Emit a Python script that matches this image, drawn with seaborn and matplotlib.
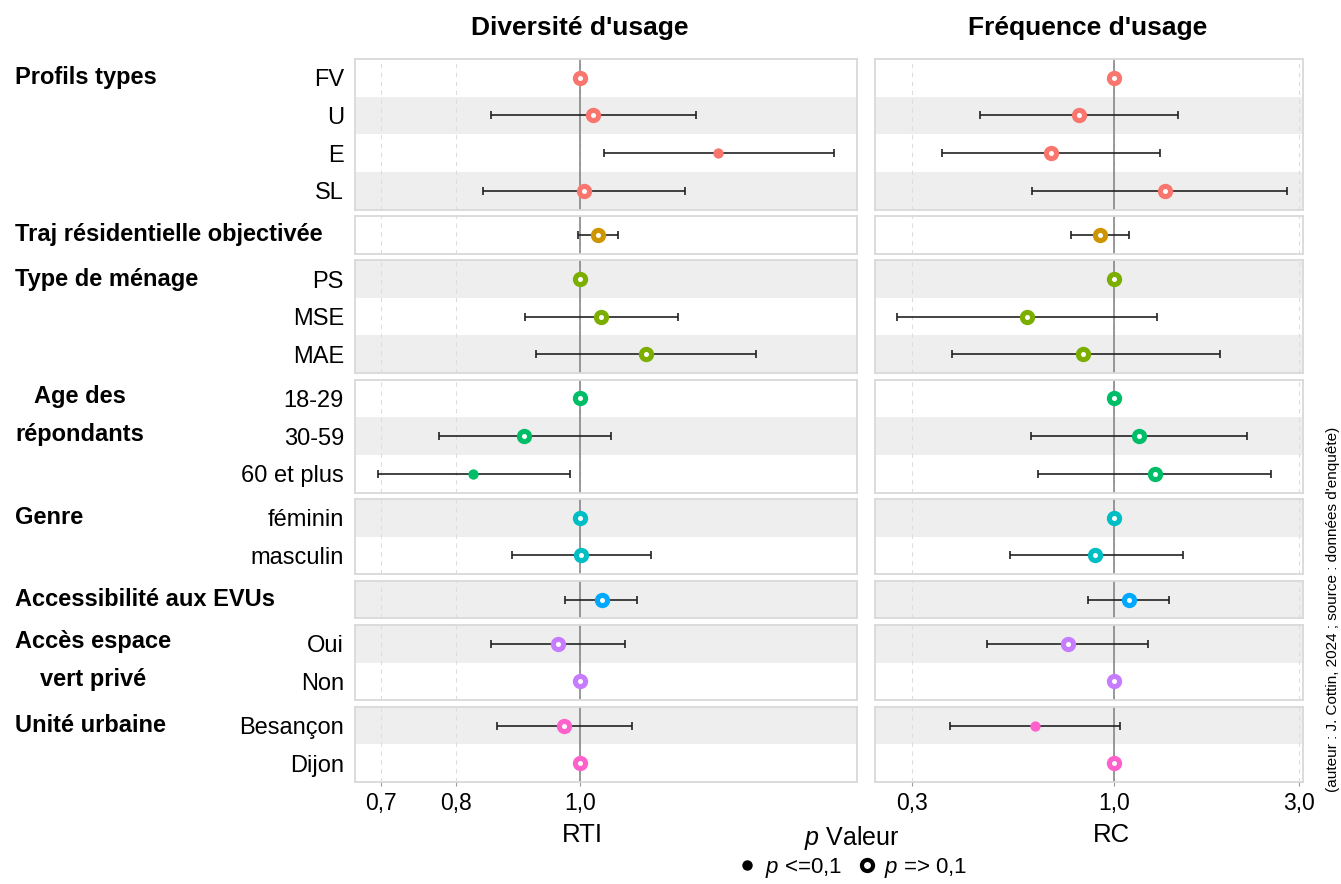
import numpy as np
import pandas as pd
import matplotlib
matplotlib.use('Agg')
import matplotlib.pyplot as plt
import matplotlib.transforms as mtransforms
from matplotlib.lines import Line2D
from matplotlib.ticker import FixedLocator, NullLocator
import seaborn as sns

sns.set_style('white')
plt.rcParams['font.family'] = ['Liberation Sans', 'DejaVu Sans']
plt.rcParams['mathtext.fontset'] = 'custom'
plt.rcParams['mathtext.rm'] = 'Liberation Sans'
plt.rcParams['mathtext.it'] = 'Liberation Sans:italic'
plt.rcParams['text.color'] = 'black'
plt.rcParams['xtick.color'] = 'black'
plt.rcParams['ytick.color'] = 'black'

# --- data ---
group_names = ['Profils types', 'Traj résidentielle objectivée', 'Type de ménage',
               'Age des\nrépondants', 'Genre', 'Accessibilité aux EVUs',
               'Accès espace\nvert privé', 'Unité urbaine']
item_group = [0, 0, 0, 0, 1, 2, 2, 2, 3, 3, 3, 4, 4, 5, 6, 6, 7, 7]
item_labels = ['FV', 'U', 'E', 'SL', '', 'PS', 'MSE', 'MAE', '18-29', '30-59',
               '60 et plus', 'féminin', 'masculin', '', 'Oui', 'Non', 'Besançon', 'Dijon']

# Diversité d'usage (RTI)
rti = [1.0, 1.024, 1.281, 1.007, 1.033, 1.0, 1.038, 1.126, 1.0, 0.905, 0.826,
       1.0, 1.002, 1.040, 0.961, 1.0, 0.972, 1.0]
rti_low = [np.nan, 0.852, 1.043, 0.840, 0.997, np.nan, 0.906, 0.924, np.nan, 0.776, 0.696,
           np.nan, 0.885, 0.973, 0.853, np.nan, 0.861, np.nan]
rti_high = [np.nan, 1.230, 1.577, 1.206, 1.070, np.nan, 1.191, 1.371, np.nan, 1.057, 0.982,
            np.nan, 1.136, 1.108, 1.084, np.nan, 1.097, np.nan]
rti_sig = [False, False, True, False, False, False, False, False, False, False, True,
           False, False, False, False, False, False, False]

# Fréquence d'usage (RC)
rc = [1.0, 0.812, 0.686, 1.349, 0.917, 1.0, 0.595, 0.830, 1.0, 1.156, 1.272,
      1.0, 0.890, 1.089, 0.758, 1.0, 0.623, 1.0]
rc_low = [np.nan, 0.450, 0.358, 0.612, 0.773, np.nan, 0.274, 0.380, np.nan, 0.609, 0.636,
          np.nan, 0.538, 0.857, 0.470, np.nan, 0.376, np.nan]
rc_high = [np.nan, 1.463, 1.315, 2.79, 1.091, np.nan, 1.291, 1.879, np.nan, 2.20, 2.535,
           np.nan, 1.505, 1.387, 1.222, np.nan, 1.034, np.nan]
rc_sig = [False, False, False, False, False, False, False, False, False, False, False,
          False, False, False, False, False, True, False]

palette = ['#F8766D', '#CD9600', '#7CAE00', '#00BE67', '#00BFC4', '#00A9FF', '#C77CFF', '#FF61CC']
shaded = [0, 1, 0, 1, 0, 1, 0, 1, 0, 1, 0, 1, 0, 1, 1, 0, 1, 0]

df = pd.DataFrame({'group': item_group, 'label': item_labels,
                   'rti': rti, 'rti_low': rti_low, 'rti_high': rti_high, 'rti_sig': rti_sig,
                   'rc': rc, 'rc_low': rc_low, 'rc_high': rc_high, 'rc_sig': rc_sig,
                   'shaded': shaded})
df['pos'] = df.groupby('group').cumcount()
sizes = df.groupby('group').size().tolist()

panels = [
    ('rti', (0.668, 1.643), [0.7, 0.8, 1.0], ['0,7', '0,8', '1,0']),
    ('rc', (0.2407, 3.075), [0.3, 1.0, 3.0], ['0,3', '1,0', '3,0']),
]

fig = plt.figure(figsize=(13.41, 8.84), dpi=100)
gs = fig.add_gridspec(8, 2, height_ratios=sizes, width_ratios=[502, 428],
                      left=355 / 1341, right=1303 / 1341, top=1 - 59 / 884, bottom=1 - 782 / 884,
                      wspace=0.0387, hspace=0.077)

for col, (var, lim, ticks, tlabels) in enumerate(panels):
    for g in range(len(group_names)):
        ax = fig.add_subplot(gs[g, col])
        sub = df[df['group'] == g]
        n = len(sub)
        ax.set_xscale('log')

        for p, s in zip(sub['pos'], sub['shaded']):
            if s:
                ax.axhspan(p - 0.5, p + 0.5, color='#EEEEEE', lw=0, zorder=0)
        ax.axvline(1.0, color='#7F7F7F', lw=1.1, zorder=1)

        err = sub.dropna(subset=[var + '_low'])
        if len(err):
            ax.errorbar(err[var], err['pos'],
                        xerr=[err[var] - err[var + '_low'], err[var + '_high'] - err[var]],
                        fmt='none', ecolor='#222222', elinewidth=1.2, capsize=2.8,
                        capthick=1.2, zorder=2)

        opn = sub[~sub[var + '_sig']]
        fil = sub[sub[var + '_sig']]
        if len(opn):
            sns.scatterplot(data=opn, x=var, y='pos', color=palette[g], s=122,
                            linewidth=0, ax=ax, zorder=3)
            sns.scatterplot(data=opn, x=var, y='pos', color='white', s=13,
                            linewidth=0, ax=ax, zorder=4)
        if len(fil):
            sns.scatterplot(data=fil, x=var, y='pos', color=palette[g], s=55,
                            linewidth=0, ax=ax, zorder=3)

        ax.set_xlim(lim)
        ax.xaxis.set_major_locator(FixedLocator(ticks))
        ax.xaxis.set_minor_locator(NullLocator())
        ax.set_ylim(n - 0.5, -0.5)
        ax.grid(axis='x', ls=(0, (4, 4)), color='#DDDDDD', lw=0.8)
        ax.grid(axis='y', visible=False)
        ax.set_xlabel('')
        ax.set_ylabel('')

        if col == 0:
            ax.set_yticks(sub['pos'])
            ax.set_yticklabels(sub['label'], fontsize=17)
            trans = mtransforms.blended_transform_factory(fig.transFigure, ax.transData)
            name = group_names[g]
            if '\n' in name:
                ax.text(15 / 1341, 0.45, name, transform=trans, ha='left', va='center',
                        multialignment='center', linespacing=1.85, fontsize=17, weight='bold')
            else:
                ax.text(15 / 1341, 0, name, transform=trans, ha='left', va='center',
                        fontsize=17, weight='bold')
        else:
            ax.set_yticks([])
        ax.tick_params(axis='y', length=0, pad=8)

        if g == len(group_names) - 1:
            ax.set_xticklabels(tlabels, fontsize=16.5)
            ax.tick_params(axis='x', length=3, color='#999999', pad=4, bottom=True)
        else:
            ax.tick_params(axis='x', length=0, labelbottom=False)

        for sp in ax.spines.values():
            sp.set_color('#D9D9D9')
            sp.set_linewidth(1.3)

# titles and axis labels
fig.text(580 / 1341, 1 - 28 / 884, "Diversité d'usage", ha='center', va='center',
         fontsize=19, weight='bold')
fig.text(1088 / 1341, 1 - 28 / 884, "Fréquence d'usage", ha='center', va='center',
         fontsize=19, weight='bold')
fig.text(582 / 1341, 1 - 835 / 884, 'RTI', ha='center', va='center', fontsize=18.5)
fig.text(1111 / 1341, 1 - 835 / 884, 'RC', ha='center', va='center', fontsize=18.5)

# legend for p value
handles = [Line2D([], [], marker='o', ls='none', color='black', markersize=6.5),
           Line2D([], [], marker='o', ls='none', markerfacecolor='white',
                  markeredgecolor='black', markeredgewidth=3.0, markersize=8)]
fig.legend(handles, ['$p$ <=0,1', '$p$ => 0,1'], loc='center',
           bbox_to_anchor=(852 / 1341, 1 - 852 / 884), ncol=2, frameon=False,
           fontsize=16, title='$p$ Valeur', title_fontsize=18, labelspacing=0.15,
           handletextpad=0.3, columnspacing=0.6, handlelength=1.0, borderpad=0.2)

fig.text(1333 / 1341, 1 - 609 / 884, "(auteur : J. Cottin, 2024 ; source : données d'enquête)",
         rotation=90, ha='center', va='center', fontsize=11)

fig.savefig('out.png', dpi=100)
